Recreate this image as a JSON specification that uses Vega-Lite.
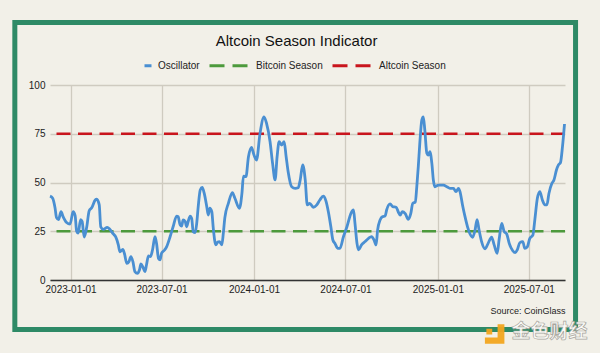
{
  "$schema": "https://vega.github.io/schema/vega-lite/v6.json",
  "width": 515,
  "height": 195,
  "autosize": "none",
  "padding": {"left": 50, "top": 85, "right": 35, "bottom": 73},
  "background": "#f2f0e8",
  "config": {
    "view": {"stroke": null},
    "font": "Liberation Sans"
  },
  "title": {
    "text": "Altcoin Season Indicator",
    "fontSize": 15,
    "fontWeight": "normal",
    "font": "Liberation Sans",
    "color": "#111111",
    "anchor": "middle",
    "dx": -11,
    "offset": -29
  },
  "layer": [
    {
      "data": {"values": [{}]},
      "mark": {"type": "rect", "fill": null, "stroke": "#2e8a66", "strokeWidth": 5, "clip": false},
      "encoding": {
        "x": {
          "datum": {"year": 2022, "month": 9, "date": 12, "utc": true},
          "type": "temporal",
          "scale": {"type": "utc", "domain": [{"year": 2022, "month": 11, "date": 21, "utc": true}, {"year": 2025, "month": 9, "date": 11, "utc": true}]},
          "axis": {
            "values": [
              {"year": 2023, "month": 1, "date": 1, "utc": true},
              {"year": 2023, "month": 7, "date": 1, "utc": true},
              {"year": 2024, "month": 1, "date": 1, "utc": true},
              {"year": 2024, "month": 7, "date": 1, "utc": true},
              {"year": 2025, "month": 1, "date": 1, "utc": true},
              {"year": 2025, "month": 7, "date": 1, "utc": true}
            ],
            "labelExpr": "utcFormat(datum.value, '%Y-%m-%d')",
            "title": "Source: CoinGlass",
            "titleFont": "Liberation Sans",
            "titleFontSize": 9,
            "titleFontWeight": "normal",
            "titleColor": "#222222",
            "titleAnchor": "end",
            "titlePadding": 12,
            "labelFont": "Liberation Sans",
            "labelFontSize": 10,
            "labelColor": "#222222",
            "labelPadding": 4,
            "labelFlush": false,
            "labelOverlap": false,
            "ticks": false,
            "tickSize": 0,
            "domain": true,
            "domainColor": "#333333",
            "domainWidth": 1.5,
            "grid": true,
            "gridColor": "#cfcbc0",
            "gridWidth": 1.3
          }
        },
        "x2": {"datum": {"year": 2025, "month": 10, "date": 2, "utc": true}},
        "y": {
          "datum": 132.1,
          "type": "quantitative",
          "scale": {"domain": [0, 100], "nice": false, "zero": true},
          "axis": {
            "values": [0, 25, 50, 75, 100],
            "title": null,
            "labelFont": "Liberation Sans",
            "labelFontSize": 10,
            "labelColor": "#222222",
            "labelPadding": 5,
            "ticks": false,
            "tickSize": 0,
            "domain": false,
            "grid": true,
            "gridColor": "#cfcbc0",
            "gridWidth": 1.3
          }
        },
        "y2": {"datum": -25.4}
      }
    },
    {
      "data": {"values": [
        {"series": "Bitcoin Season", "level": 25},
        {"series": "Altcoin Season", "level": 75}
      ]},
      "mark": {"type": "rule", "strokeDash": [14, 7.5], "strokeWidth": 2.7},
      "encoding": {
        "y": {"field": "level", "type": "quantitative"},
        "color": {
          "field": "series",
          "type": "nominal",
          "scale": {
            "domain": ["Oscillator", "Bitcoin Season", "Altcoin Season"],
            "range": ["#4a8fd2", "#4d9a3c", "#c9151d"]
          },
          "legend": {
            "title": null,
            "orient": "none",
            "direction": "horizontal",
            "legendX": 60,
            "legendY": -41,
            "symbolType": "stroke",
            "symbolSize": 1600,
            "symbolStrokeWidth": 3,
            "labelFont": "Liberation Sans",
            "labelFontSize": 10,
            "labelColor": "#222222",
            "labelOffset": 5,
            "columnPadding": 3,
            "padding": 0,
            "encode": {
              "symbols": {
                "update": {
                  "strokeDash": {"signal": "datum.value == 'Oscillator' ? [0, 33, 7, 0] : [15, 8]"}
                }
              }
            }
          }
        }
      }
    },
    {
      "data": {"values": [
        {"date":"2022-11-21","value":43},{"date":"2022-11-26","value":42},{"date":"2022-12-01","value":37},{"date":"2022-12-04","value":32},{"date":"2022-12-08","value":31},{"date":"2022-12-13","value":35},{"date":"2022-12-17","value":32.5},{"date":"2022-12-24","value":29.5},{"date":"2022-12-31","value":28.7},
        {"date":"2023-01-06","value":35},{"date":"2023-01-10","value":33},{"date":"2023-01-13","value":25},{"date":"2023-01-16","value":24},{"date":"2023-01-21","value":31},{"date":"2023-01-24","value":30},{"date":"2023-01-28","value":22},
        {"date":"2023-02-02","value":27},{"date":"2023-02-07","value":35.5},{"date":"2023-02-12","value":37},{"date":"2023-02-19","value":41},{"date":"2023-02-22","value":41.4},{"date":"2023-02-27","value":38.5},
        {"date":"2023-03-02","value":27.3},{"date":"2023-03-07","value":26},{"date":"2023-03-15","value":27},{"date":"2023-03-20","value":26},{"date":"2023-03-27","value":23.6},
        {"date":"2023-04-01","value":22},{"date":"2023-04-06","value":18},{"date":"2023-04-09","value":14.5},{"date":"2023-04-15","value":15.7},{"date":"2023-04-18","value":13.7},{"date":"2023-04-23","value":8.5},{"date":"2023-04-27","value":9.4},
        {"date":"2023-05-01","value":12},{"date":"2023-05-05","value":9.4},{"date":"2023-05-09","value":4.3},{"date":"2023-05-14","value":3.4},{"date":"2023-05-18","value":5.1},{"date":"2023-05-21","value":8.2},{"date":"2023-05-26","value":6},{"date":"2023-05-29","value":4.3},
        {"date":"2023-06-01","value":7.7},{"date":"2023-06-05","value":12.3},{"date":"2023-06-09","value":12},{"date":"2023-06-13","value":15.4},{"date":"2023-06-18","value":22.2},{"date":"2023-06-21","value":18.8},{"date":"2023-06-25","value":11},{"date":"2023-06-28","value":10.3},
        {"date":"2023-07-01","value":13.7},{"date":"2023-07-07","value":15.4},{"date":"2023-07-11","value":17},{"date":"2023-07-18","value":22.2},{"date":"2023-07-24","value":27.3},{"date":"2023-07-31","value":32.8},
        {"date":"2023-08-03","value":32.5},{"date":"2023-08-07","value":28.2},{"date":"2023-08-10","value":27.7},{"date":"2023-08-13","value":30.8},{"date":"2023-08-17","value":30},{"date":"2023-08-20","value":27.3},{"date":"2023-08-23","value":30},{"date":"2023-08-27","value":32.8},{"date":"2023-08-30","value":31.6},
        {"date":"2023-09-02","value":24.8},{"date":"2023-09-06","value":24.3},{"date":"2023-09-09","value":29},{"date":"2023-09-12","value":37.6},{"date":"2023-09-16","value":46.2},{"date":"2023-09-20","value":47.5},{"date":"2023-09-24","value":44.4},{"date":"2023-09-29","value":37.6},
        {"date":"2023-10-02","value":33.3},{"date":"2023-10-05","value":36.8},{"date":"2023-10-09","value":35},{"date":"2023-10-12","value":26.5},{"date":"2023-10-17","value":18},{"date":"2023-10-21","value":19.5},{"date":"2023-10-24","value":19.7},{"date":"2023-10-29","value":18},
        {"date":"2023-11-01","value":24},{"date":"2023-11-04","value":32},{"date":"2023-11-11","value":39.3},{"date":"2023-11-19","value":44.8},{"date":"2023-11-24","value":41.9},
        {"date":"2023-12-03","value":36.8},{"date":"2023-12-08","value":44.4},{"date":"2023-12-11","value":53.3},{"date":"2023-12-16","value":53},{"date":"2023-12-21","value":63.2},{"date":"2023-12-27","value":68},
        {"date":"2024-01-01","value":64.1},{"date":"2024-01-06","value":61.5},{"date":"2024-01-13","value":75.2},{"date":"2024-01-21","value":83.7},{"date":"2024-01-26","value":80.3},
        {"date":"2024-02-02","value":70.9},{"date":"2024-02-07","value":59.8},{"date":"2024-02-12","value":51.3},{"date":"2024-02-16","value":63.2},{"date":"2024-02-20","value":70.9},{"date":"2024-02-25","value":69.2},
        {"date":"2024-03-01","value":70.9},{"date":"2024-03-05","value":63.2},{"date":"2024-03-09","value":55.5},{"date":"2024-03-16","value":47.8},{"date":"2024-03-23","value":47},{"date":"2024-03-29","value":47.3},
        {"date":"2024-04-02","value":51.3},{"date":"2024-04-07","value":59},{"date":"2024-04-12","value":51.3},{"date":"2024-04-16","value":38.5},{"date":"2024-04-21","value":39.3},{"date":"2024-04-28","value":37.3},
        {"date":"2024-05-05","value":38.5},{"date":"2024-05-11","value":41},{"date":"2024-05-18","value":43},{"date":"2024-05-23","value":40.7},{"date":"2024-05-28","value":35},
        {"date":"2024-06-02","value":27.3},{"date":"2024-06-06","value":20.5},{"date":"2024-06-10","value":18.8},{"date":"2024-06-16","value":16.2},{"date":"2024-06-20","value":16.2},{"date":"2024-06-27","value":22.2},
        {"date":"2024-07-04","value":27.3},{"date":"2024-07-12","value":34.2},{"date":"2024-07-17","value":35.9},{"date":"2024-07-20","value":29},{"date":"2024-07-24","value":18.8},{"date":"2024-07-27","value":15.4},
        {"date":"2024-08-02","value":18},{"date":"2024-08-09","value":19.7},{"date":"2024-08-16","value":21.4},{"date":"2024-08-22","value":22.2},{"date":"2024-08-27","value":20.5},{"date":"2024-08-31","value":18},
        {"date":"2024-09-03","value":25.6},{"date":"2024-09-08","value":30.8},{"date":"2024-09-13","value":32.5},{"date":"2024-09-18","value":32.8},{"date":"2024-09-21","value":35.9},{"date":"2024-09-28","value":39},
        {"date":"2024-10-03","value":37.6},{"date":"2024-10-10","value":37.3},{"date":"2024-10-14","value":35},{"date":"2024-10-18","value":33.3},{"date":"2024-10-22","value":35},{"date":"2024-10-28","value":34},
        {"date":"2024-11-03","value":31.1},{"date":"2024-11-08","value":34},{"date":"2024-11-12","value":39.3},{"date":"2024-11-17","value":40},{"date":"2024-11-20","value":47.8},{"date":"2024-11-23","value":58.1},{"date":"2024-11-26","value":70.1},{"date":"2024-11-30","value":82},
        {"date":"2024-12-03","value":83.7},{"date":"2024-12-06","value":76.9},{"date":"2024-12-10","value":65},{"date":"2024-12-13","value":64},{"date":"2024-12-16","value":65.8},{"date":"2024-12-20","value":59.8},{"date":"2024-12-23","value":51.3},{"date":"2024-12-26","value":47.8},
        {"date":"2025-01-02","value":48.7},{"date":"2025-01-12","value":48.7},{"date":"2025-01-19","value":47.8},{"date":"2025-01-25","value":47},
        {"date":"2025-02-01","value":47},{"date":"2025-02-06","value":45.3},{"date":"2025-02-11","value":47},{"date":"2025-02-14","value":45.3},{"date":"2025-02-19","value":38.5},{"date":"2025-02-24","value":32.5},
        {"date":"2025-03-01","value":27.3},{"date":"2025-03-06","value":23.6},{"date":"2025-03-11","value":21.9},{"date":"2025-03-16","value":25.6},{"date":"2025-03-20","value":31},{"date":"2025-03-24","value":25.6},{"date":"2025-03-29","value":19.7},
        {"date":"2025-04-05","value":16},{"date":"2025-04-11","value":18.8},{"date":"2025-04-18","value":22},{"date":"2025-04-23","value":18},{"date":"2025-04-29","value":13.7},
        {"date":"2025-05-03","value":21},{"date":"2025-05-08","value":29},{"date":"2025-05-13","value":24.8},{"date":"2025-05-18","value":23.6},{"date":"2025-05-23","value":18.8},{"date":"2025-05-30","value":15},
        {"date":"2025-06-04","value":14},{"date":"2025-06-08","value":15.5},{"date":"2025-06-13","value":19.1},{"date":"2025-06-19","value":19.7},{"date":"2025-06-23","value":16.2},{"date":"2025-06-28","value":17},
        {"date":"2025-07-03","value":21.4},{"date":"2025-07-09","value":23},{"date":"2025-07-13","value":31},{"date":"2025-07-18","value":41.9},{"date":"2025-07-23","value":45.3},{"date":"2025-07-28","value":41},
        {"date":"2025-08-02","value":38.5},{"date":"2025-08-06","value":38.5},{"date":"2025-08-10","value":44.4},{"date":"2025-08-16","value":49.6},{"date":"2025-08-20","value":51.3},{"date":"2025-08-25","value":56.4},{"date":"2025-08-29","value":59},
        {"date":"2025-09-02","value":60.2},{"date":"2025-09-06","value":68.4},{"date":"2025-09-10","value":80}
      ]},
      "mark": {"type": "line", "interpolate": "monotone", "strokeWidth": 2.8},
      "encoding": {
        "x": {"field": "date", "type": "temporal"},
        "y": {"field": "value", "type": "quantitative"},
        "color": {"datum": "Oscillator", "type": "nominal"}
      }
    },
    {
      "data": {"values": [{}]},
      "mark": {"type": "point", "shape": "M0.3,-1L1,-1L1,1L-1,1L-1,0.35L0.3,0.35Z M-0.85,-0.55L-0.25,-0.55L-0.25,0.05L-0.85,0.05Z", "filled": true, "fill": "#f2a51f", "opacity": 0.95, "size": 380, "clip": false},
      "encoding": {
        "x": {"datum": {"year": 2025, "month": 4, "date": 24, "utc": true}, "type": "temporal"},
        "y": {"datum": -27.7, "type": "quantitative"}
      }
    },
    {
      "data": {"values": [{}]},
      "mark": {"type": "text", "text": "金色财经", "font": "Noto Sans CJK SC", "fontSize": 19, "fontWeight": "bold", "align": "center", "baseline": "middle", "fill": "#fbfbf8", "stroke": "#a8a69e", "strokeWidth": 0.7, "clip": false},
      "encoding": {
        "x": {"datum": {"year": 2025, "month": 8, "date": 11, "utc": true}, "type": "temporal"},
        "y": {"datum": -26.9, "type": "quantitative"}
      }
    }
  ]
}
